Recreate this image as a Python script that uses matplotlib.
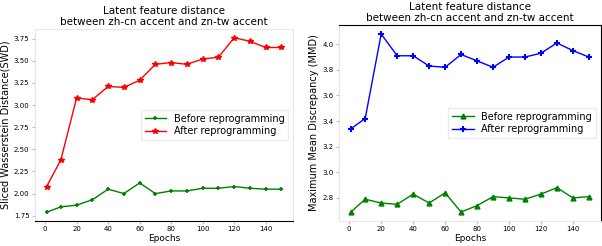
import matplotlib.pyplot as plt

epocas = [1, 10, 20, 30, 40, 50, 60, 70, 80, 90, 100, 110, 120, 130, 140, 150]

swd_antes = [1.79, 1.85, 1.87, 1.93, 2.05, 2.00, 2.12, 2.00, 2.03, 2.03, 2.06, 2.06, 2.08, 2.06, 2.05, 2.05]
swd_despues = [2.08, 2.38, 3.08, 3.06, 3.21, 3.20, 3.28, 3.46, 3.48, 3.46, 3.52, 3.54, 3.76, 3.72, 3.65, 3.65]

mmd_antes = [2.69, 2.79, 2.76, 2.75, 2.83, 2.76, 2.84, 2.69, 2.74, 2.81, 2.80, 2.79, 2.83, 2.88, 2.80, 2.81]
mmd_despues = [3.34, 3.42, 4.08, 3.91, 3.91, 3.83, 3.82, 3.92, 3.87, 3.82, 3.90, 3.90, 3.93, 4.01, 3.95, 3.90]

titulo = "Latent feature distance\nbetween zh-cn accent and zn-tw accent"
gris = "#e6e6e6"

fig = plt.figure(figsize=(6.02, 2.46), dpi=100)

# grafica izquierda (SWD)
ax1 = fig.add_axes([0.058, 0.102, 0.429, 0.780])
ax1.plot(epocas, swd_antes, color="green", marker="+", markersize=3.5, mew=1.2, lw=1, label="Before reprogramming")
ax1.plot(epocas, swd_despues, color="red", marker="*", markersize=4, lw=1, label="After reprogramming")
ax1.set_title(titulo, fontsize=7.5, pad=3, linespacing=1.1)
ax1.set_xlabel("Epochs", fontsize=6.5, labelpad=1)
ax1.set_ylabel("Sliced Wasserstein Distance(SWD)", fontsize=7, labelpad=2)
ax1.set_xticks(range(0, 141, 20))
ax1.tick_params(labelsize=5, length=2, pad=2, color="#bbbbbb")
for lado in ["top", "right", "left"]:
    ax1.spines[lado].set_color(gris)
ax1.legend(loc="center right", fontsize=7, frameon=True, fancybox=False, edgecolor=gris, handlelength=2.2, borderpad=0.4, labelspacing=0.3)

# grafica derecha (MMD)
ax2 = fig.add_axes([0.563, 0.102, 0.435, 0.796])
ax2.plot(epocas, mmd_antes, color="green", marker="^", markersize=3.5, lw=1, label="Before reprogramming")
ax2.plot(epocas, mmd_despues, color="blue", marker="+", markersize=5, mew=1.5, lw=1, label="After reprogramming")
ax2.set_title(titulo, fontsize=7.5, pad=3, linespacing=1.1)
ax2.set_xlabel("Epochs", fontsize=6.5, labelpad=1)
ax2.set_ylabel("Maximum Mean Discrepancy (MMD)", fontsize=7, labelpad=2)
ax2.set_xticks(range(0, 141, 20))
ax2.set_yticks([2.8, 3.0, 3.2, 3.4, 3.6, 3.8, 4.0])
ax2.tick_params(labelsize=5, length=2, pad=2, color="#bbbbbb")
for lado in ["left", "bottom"]:
    ax2.spines[lado].set_color(gris)
ax2.legend(loc="center right", fontsize=7, frameon=True, fancybox=False, edgecolor=gris, handlelength=2.2, borderpad=0.4, labelspacing=0.3)

plt.savefig("out.png", dpi=100)
